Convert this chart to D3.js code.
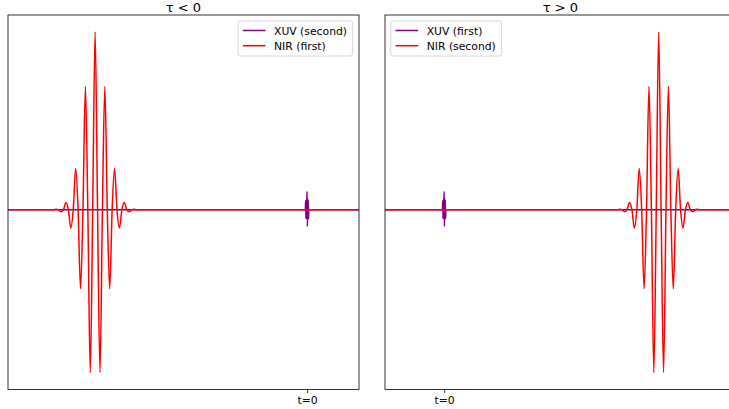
<!DOCTYPE html>
<html>
<head>
<meta charset="utf-8">
<script src="https://cdn.jsdelivr.net/npm/d3@7"></script>
<style>
  body { margin: 0; background: #fff; }
  text { font-family: "DejaVu Sans", sans-serif; }
</style>
</head>
<body>
<script>
// panels (time in fs)
var titles = ['τ < 0', 'τ > 0'];
var xuvLabels = ['XUV (second)', 'XUV (first)'];
var nirLabels = ['NIR (first)', 'NIR (second)'];
var xDomains = [[-82.4, 14.3], [-16.3, 80.4]];
var nirDelays = [-58.4, 59.1];
var tickLabels = ['t=0'];

// NIR field: extrema and zero crossings, offset from pulse centre
var nirOffsets = [-11.39, -10.72, -10.05, -9.38, -8.71, -8.04, -7.37, -6.70, -6.03, -5.36, -4.69, -4.02,
  -3.35, -2.68, -2.01, -1.34, -0.67, 0, 0.67, 1.34, 2.01, 2.68, 3.35, 4.02, 4.69, 5.36, 6.03, 6.70,
  7.37, 8.04, 8.71, 9.38, 10.05, 10.72, 11.39];
var nirValues = [0, 0.003, 0, -0.011, 0, 0.041, 0, -0.103, 0, 0.232, 0, -0.445,
  0, 0.694, 0, -0.916, 0, 1.0, 0, -0.916, 0, 0.694, 0, -0.445, 0, 0.232, 0, -0.103,
  0, 0.041, 0, -0.011, 0, 0.003, 0];

// XUV field around t=0
var xuvOffsets = [-0.48, -0.4, -0.32, -0.24, -0.16, -0.08, 0, 0.08, 0.16, 0.24, 0.32, 0.4, 0.48];
var xuvValues = [0, 0.05, -0.05, 0.055, -0.05, 0.06, 0.103, -0.094, 0.06, -0.05, 0.055, -0.05, 0];

var W = 729, H = 409;
var panelX = [[8, 359], [385, 736]];
var yTop = 15, yBottom = 389.5;

var svg = d3.select('body').append('svg').attr('width', W).attr('height', H);
svg.append('rect').attr('width', W).attr('height', H).attr('fill', '#fff');

// y limits like matplotlib autoscale (5% margin)
var yMin = d3.min(nirValues), yMax = d3.max(nirValues);
var pad = (yMax - yMin) * 0.05;
var y = d3.scaleLinear().domain([yMin - pad, yMax + pad]).range([yBottom, yTop]);

var line = d3.line()
  .x(function (d) { return d.x; })
  .y(function (d) { return y(d.v); })
  .curve(d3.curveMonotoneX);

function series(offsets, values, center, x) {
  var pts = [{ x: x.range()[0], v: 0 }];
  offsets.forEach(function (o, i) {
    pts.push({ x: x(center + o), v: values[i] });
  });
  pts.push({ x: x.range()[1], v: 0 });
  return pts;
}

titles.forEach(function (title, p) {
  var x0 = panelX[p][0], x1 = panelX[p][1];
  var x = d3.scaleLinear().domain(xDomains[p]).range([x0, x1]);
  var g = svg.append('g');

  g.append('clipPath').attr('id', 'clip' + p)
    .append('rect').attr('x', x0).attr('y', yTop).attr('width', x1 - x0).attr('height', yBottom - yTop);

  var plot = g.append('g').attr('clip-path', 'url(#clip' + p + ')');
  plot.append('path')
    .attr('d', line(series(xuvOffsets, xuvValues, 0, x)))
    .attr('fill', 'none').attr('stroke', '#800080').attr('stroke-width', 1.5);
  plot.append('path')
    .attr('d', line(series(nirOffsets, nirValues, nirDelays[p], x)))
    .attr('fill', 'none').attr('stroke', '#ff0000').attr('stroke-width', 1.5);

  // frame
  g.append('rect')
    .attr('x', x0).attr('y', yTop).attr('width', x1 - x0).attr('height', yBottom - yTop)
    .attr('fill', 'none').attr('stroke', '#000').attr('stroke-width', 0.8);

  // x axis with a single tick at t=0
  var axis = d3.axisBottom(x).tickValues([0]).tickFormat(function () { return tickLabels[0]; })
    .tickSize(3.5).tickPadding(3.5);
  var ax = g.append('g').attr('transform', 'translate(0,' + yBottom + ')').call(axis);
  ax.select('.domain').remove();
  ax.selectAll('.tick line').attr('stroke', '#000').attr('stroke-width', 0.8);
  ax.selectAll('.tick text').attr('font-size', 10.8).attr('fill', '#000')
    .attr('font-family', 'DejaVu Sans, sans-serif');

  g.append('text')
    .attr('x', (x0 + x1) / 2).attr('y', 12)
    .attr('text-anchor', 'middle').attr('font-size', 13).text(title);

  // legend
  var lw = p === 0 ? 114.7 : 111;
  var lx = p === 0 ? x1 - 6.3 - lw : x0 + 5.7;
  var leg = g.append('g').attr('transform', 'translate(' + lx + ',21)');
  leg.append('rect').attr('width', lw).attr('height', 35).attr('rx', 2.5)
    .attr('fill', '#fff').attr('fill-opacity', 0.8)
    .attr('stroke', '#cccccc').attr('stroke-width', 0.8);
  var items = [{ label: xuvLabels[p], color: '#800080' }, { label: nirLabels[p], color: '#ff0000' }];
  items.forEach(function (it, i) {
    var yy = 9.5 + i * 15.2;
    leg.append('line').attr('x1', 4.8).attr('x2', 27.5).attr('y1', yy).attr('y2', yy)
      .attr('stroke', it.color).attr('stroke-width', 1.5);
    leg.append('text').attr('x', 36).attr('y', yy + 4).attr('font-size', 10.8).text(it.label);
  });
});
</script>
</body>
</html>
